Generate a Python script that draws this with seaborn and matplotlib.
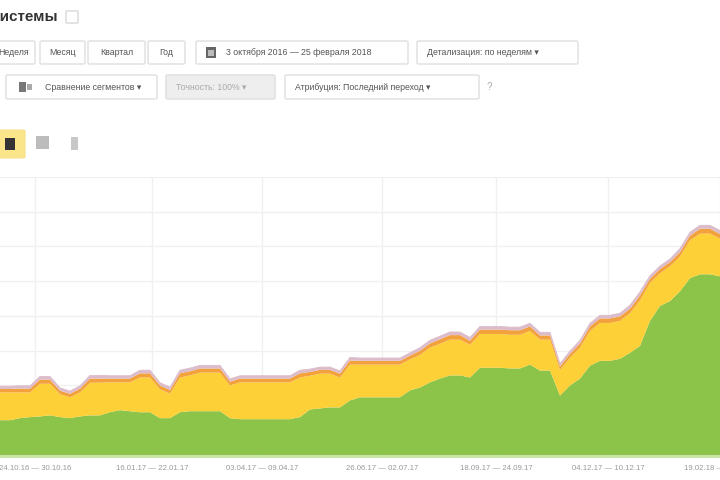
import matplotlib
matplotlib.use("Agg")
import matplotlib.pyplot as plt
from matplotlib.patches import FancyBboxPatch, Rectangle
import numpy as np
import pandas as pd
import seaborn as sns

# ---------------- data (weekly visits by source) ----------------
weeks = list(range(73))
green = [100, 100, 106, 109, 111, 114, 109, 106, 111, 114,
         114, 123, 129, 126, 123, 123, 106, 106, 123, 126,
         126, 126, 126, 106, 103, 103, 103, 103, 103, 103,
         109, 131, 134, 137, 137, 157, 166, 166, 166, 166,
         166, 186, 194, 209, 220, 229, 229, 223, 251, 251,
         251, 249, 249, 260, 243, 243, 171, 200, 220, 257,
         271, 271, 277, 294, 314, 386, 429, 443, 471, 509,
         520, 520, 514]
yellow = [80, 80, 74, 71, 94, 91, 66, 60, 69, 94,
          94, 86, 80, 83, 100, 100, 83, 71, 100, 103,
          111, 111, 111, 94, 106, 106, 106, 106, 106, 106,
          114, 97, 100, 97, 86, 103, 94, 94, 94, 94,
          94, 89, 94, 100, 100, 103, 103, 94, 97, 97,
          97, 97, 97, 97, 89, 89, 74, 80, 89, 100,
          109, 109, 109, 114, 131, 109, 94, 100, 100, 109,
          117, 117, 109]
orange = [10, 10, 11, 11, 12, 12, 10, 10, 11, 12,
          12, 11, 11, 11, 12, 12, 11, 10, 12, 12,
          12, 12, 12, 11, 11, 11, 11, 11, 11, 11,
          12, 11, 11, 11, 11, 12, 11, 11, 11, 11,
          11, 11, 12, 12, 13, 13, 13, 12, 13, 13,
          13, 13, 13, 13, 12, 12, 10, 11, 12, 13,
          13, 13, 13, 13, 14, 12, 12, 12, 13, 13,
          14, 14, 13]
pink = [8, 8, 8, 8, 9, 9, 8, 8, 8, 9,
        9, 8, 8, 8, 9, 9, 8, 8, 9, 9,
        9, 9, 9, 8, 8, 8, 8, 8, 8, 8,
        9, 8, 8, 8, 8, 9, 8, 8, 8, 8,
        8, 8, 9, 9, 9, 9, 9, 9, 9, 9,
        9, 9, 9, 9, 9, 9, 8, 8, 9, 9,
        9, 9, 9, 10, 10, 9, 9, 9, 10, 10,
        10, 10, 10]

tick_weeks = [3.5, 15.2, 26.2, 38.2, 49.6, 60.8, 72]
tick_labels = ["24.10.16 — 30.10.16", "16.01.17 — 22.01.17", "03.04.17 — 09.04.17",
               "26.06.17 — 02.07.17", "18.09.17 — 24.09.17", "04.12.17 — 10.12.17",
               "19.02.18 — 25.02.18"]

title_text = "Поисковые системы"
period_buttons = ["Неделя", "Месяц", "Квартал", "Год"]
date_range = "3 октября 2016 — 25 февраля 2018"
detail_text = "Детализация: по неделям ▾"
segment_text = "Сравнение сегментов ▾"
accuracy_text = "Точность: 100% ▾"
attribution_text = "Атрибуция: Последний переход ▾"

colors = {"base": "#c9e5a6", "green": "#8cc44a", "yellow": "#fdd038",
          "orange": "#f2a13d", "pink": "#dcbccb"}

# ---------------- figure ----------------
sns.set_theme(style="whitegrid")
plt.rcParams["font.family"] = ["Liberation Sans", "DejaVu Sans"]

W, H = 720, 480
fig = plt.figure(figsize=(7.2, 4.8), dpi=100)
fig.patch.set_facecolor("white")

def fx(px):
    return px / W

def fy(py):
    return (H - py) / H

def box(x0, y0, x1, y1, fc="white", ec="#e6e6e6", lw=1.0, r=2):
    p = FancyBboxPatch((fx(x0), fy(y1)), fx(x1) - fx(x0), fy(y0) - fy(y1),
                       boxstyle=f"round,pad=0,rounding_size={r / W}",
                       transform=fig.transFigure, fc=fc, ec=ec, lw=lw)
    fig.add_artist(p)

def rect(x0, y0, x1, y1, fc, ec="none", lw=0):
    p = Rectangle((fx(x0), fy(y1)), fx(x1) - fx(x0), fy(y0) - fy(y1),
                  transform=fig.transFigure, fc=fc, ec=ec, lw=lw)
    fig.add_artist(p)

def txt(x, y, s, size=6.3, color="#555555", ha="left", weight="normal"):
    fig.text(fx(x), fy(y), s, fontsize=size, color=color, ha=ha, va="center",
             fontweight=weight)

# title
txt(58, 17, title_text, size=11, color="#333333", ha="right", weight="bold")
box(66, 11, 78, 23, fc="white", ec="#d8d8d8", lw=1.0, r=1)

# row 2: period buttons
btns = [(-10, 35, 29), (40, 85, 62.5), (88, 145, 116.5), (148, 185, 166.5)]
for (x0, x1, cx), label in zip(btns, period_buttons):
    box(x0, 41, x1, 64, fc="white", ec="#e4e4e4", lw=1.2)
    if label == period_buttons[0]:
        txt(cx, 52.5, label, ha="right")
    else:
        txt(cx, 52.5, label, ha="center")
box(196, 41, 408, 64, fc="white", ec="#e4e4e4", lw=1.2)
rect(206, 47, 216, 58, fc="#666666")
rect(208, 50, 214, 56, fc="#bbbbbb")
txt(226, 52.5, date_range)
box(417, 41, 578, 64, fc="white", ec="#e4e4e4", lw=1.2)
txt(427, 52.5, detail_text)

# row 3
box(6, 75, 157, 99, fc="white", ec="#e4e4e4", lw=1.2)
rect(19, 82, 26, 92, fc="#777777")
rect(27, 84, 32, 90, fc="#aaaaaa")
txt(45, 87, segment_text)
box(166, 75, 275, 99, fc="#eeeeee", ec="#e2e2e2", lw=1.2)
txt(176, 87, accuracy_text, color="#aaaaaa")
box(285, 75, 479, 99, fc="white", ec="#e4e4e4", lw=1.2)
txt(295, 87, attribution_text)
txt(489, 87, "?", size=7, color="#aaaaaa", ha="center")

# row 4: chart type icons
box(-3, 130, 25, 158, fc="#fbe58a", ec="#f6e08a", lw=0.8, r=2)
rect(5, 138, 15, 150, fc="#333333")
rect(36, 136, 49, 149, fc="#bcbcbc")
rect(71, 137, 78, 150, fc="#c8c8c8")

# ---------------- chart ----------------
y_bottom_px = 458.1
y_top_px = 177.0
ax = fig.add_axes([0.0, fy(y_bottom_px), 1.0, (y_bottom_px - y_top_px) / H])
ax.set_facecolor("white")

df = pd.DataFrame({"week": weeks, "green": green, "yellow": yellow,
                   "orange": orange, "pink": pink})
df["c1"] = df["green"]
df["c2"] = df["c1"] + df["yellow"]
df["c3"] = df["c2"] + df["orange"]
df["c4"] = df["c3"] + df["pink"]

ax.axhspan(-9, 0, color=colors["base"], lw=0, zorder=2)
ax.fill_between(df["week"], 0, df["c1"], color=colors["green"], lw=0, zorder=2)
ax.fill_between(df["week"], df["c1"], df["c2"], color=colors["yellow"], lw=0, zorder=2)
ax.fill_between(df["week"], df["c2"], df["c3"], color=colors["orange"], lw=0, zorder=2)
ax.fill_between(df["week"], df["c3"], df["c4"], color=colors["pink"], lw=0, zorder=2)
sns.lineplot(data=df, x="week", y="c4", ax=ax, color=colors["pink"], lw=0.6, zorder=3)

ax.set_xlim(0, 72)
ax.set_ylim(-9, 800)
ax.set_yticks(np.arange(0, 801, 100))
ax.set_yticklabels([])
ax.set_xticks(tick_weeks)
ax.set_xticklabels(tick_labels)
ax.tick_params(axis="x", length=0, pad=5, labelsize=5.6, labelcolor="#999999")
ax.tick_params(axis="y", length=0)
ax.grid(True, color="#f0f0f0", lw=1.0)
ax.set_axisbelow(True)
for s in ax.spines.values():
    s.set_visible(False)
ax.set_xlabel("")
ax.set_ylabel("")

fig.savefig("out.png", dpi=100, facecolor="white")
